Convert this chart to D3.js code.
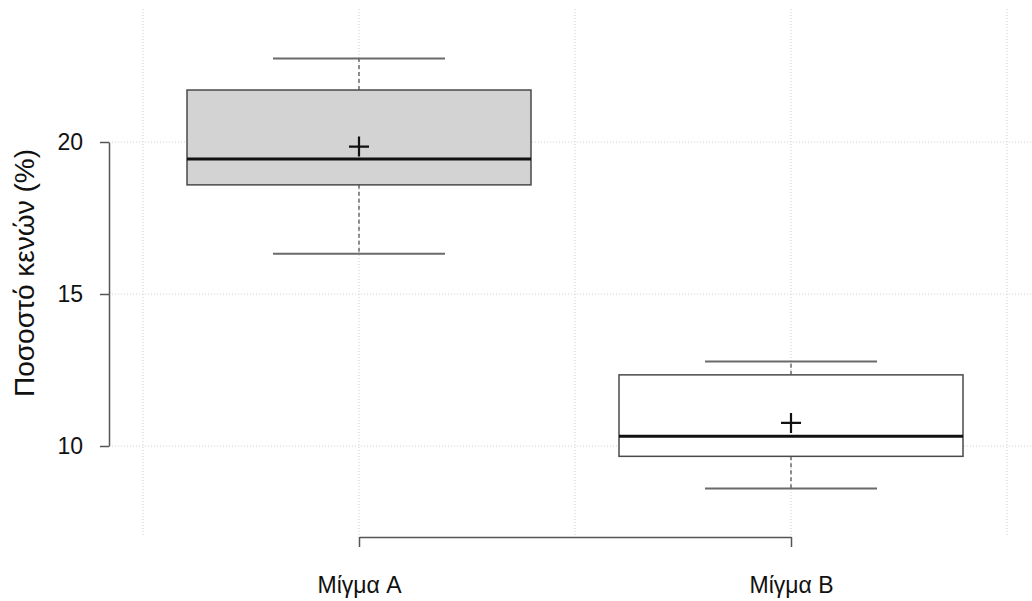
<!DOCTYPE html>
<html>
<head>
<meta charset="utf-8">
<script src="https://cdn.jsdelivr.net/npm/d3@7"></script>
<style>
  html, body { margin: 0; padding: 0; background: #fff; }
  svg { display: block; font-family: "Liberation Sans", Arial, Helvetica, sans-serif; }
</style>
</head>
<body>
<svg id="chart" width="1032" height="601"></svg>
<script>
// Two mixtures, five-number summaries plus the mean, in percent voids
const categories = ["Μίγμα A", "Μίγμα B"];
const whiskerLow  = [16.32, 8.60];
const quartile1   = [18.59, 9.66];
const medians     = [19.44, 10.32];
const quartile3   = [21.71, 12.34];
const whiskerHigh = [22.75, 12.78];
const means       = [19.85, 10.76];
const boxFills    = ["#d3d3d3", "#ffffff"];
const yTicks      = [10, 15, 20];
const gridX       = [0.5, 1, 1.5, 2, 2.5];
const yLabel      = "Ποσοστό κενών (%)";

const svg = d3.select("#chart");

const x = d3.scaleLinear().domain([1, 2]).range([359, 791]);
const y = d3.scaleLinear().domain([10, 20]).range([446, 142]);

const boxHalf = 172;
const capHalf = 86;
const plotLeft = 109, plotRight = 1032, plotTop = 9, plotBottom = 537;

// Dotted background grid
const grid = svg.append("g").attr("stroke", "#d0d0d0").attr("stroke-width", 1)
  .attr("stroke-dasharray", "1,2");
grid.selectAll("line.v").data(gridX).join("line").attr("class", "v")
  .attr("x1", d => x(d)).attr("x2", d => x(d))
  .attr("y1", plotTop).attr("y2", plotBottom);
grid.selectAll("line.h").data(yTicks).join("line").attr("class", "h")
  .attr("x1", plotLeft).attr("x2", plotRight)
  .attr("y1", d => y(d)).attr("y2", d => y(d));

const rows = categories.map((c, i) => ({
  i, c, lo: whiskerLow[i], q1: quartile1[i], med: medians[i],
  q3: quartile3[i], hi: whiskerHigh[i], mean: means[i], fill: boxFills[i]
}));

const g = svg.append("g").selectAll("g").data(rows).join("g");

// Dashed whisker stems
g.append("line")
  .attr("x1", d => x(d.i + 1)).attr("x2", d => x(d.i + 1))
  .attr("y1", d => y(d.q3)).attr("y2", d => y(d.hi))
  .attr("stroke", "#555").attr("stroke-width", 1.3).attr("stroke-dasharray", "4,3");
g.append("line")
  .attr("x1", d => x(d.i + 1)).attr("x2", d => x(d.i + 1))
  .attr("y1", d => y(d.q1)).attr("y2", d => y(d.lo))
  .attr("stroke", "#555").attr("stroke-width", 1.3).attr("stroke-dasharray", "4,3");

// Whisker caps
["hi", "lo"].forEach(k => {
  g.append("line")
    .attr("x1", d => x(d.i + 1) - capHalf).attr("x2", d => x(d.i + 1) + capHalf)
    .attr("y1", d => y(d[k])).attr("y2", d => y(d[k]))
    .attr("stroke", "#6a6a6a").attr("stroke-width", 2);
});

// Boxes
g.append("rect")
  .attr("x", d => x(d.i + 1) - boxHalf)
  .attr("width", boxHalf * 2)
  .attr("y", d => y(d.q3))
  .attr("height", d => y(d.q1) - y(d.q3))
  .attr("fill", d => d.fill)
  .attr("stroke", "#4a4a4a").attr("stroke-width", 1.5);

// Medians
g.append("line")
  .attr("x1", d => x(d.i + 1) - boxHalf).attr("x2", d => x(d.i + 1) + boxHalf)
  .attr("y1", d => y(d.med)).attr("y2", d => y(d.med))
  .attr("stroke", "#111").attr("stroke-width", 3.2);

// Mean markers
g.append("path")
  .attr("d", d => {
    const cx = x(d.i + 1), cy = y(d.mean), r = 10;
    return `M${cx - r},${cy}H${cx + r}M${cx},${cy - r}V${cy + r}`;
  })
  .attr("stroke", "#111").attr("stroke-width", 2.2).attr("fill", "none");

// Y axis
const yAxis = svg.append("g").attr("transform", `translate(${plotLeft},0)`)
  .call(d3.axisLeft(y).tickValues(yTicks).tickSize(9).tickSizeOuter(0).tickPadding(17)
    .tickFormat(d3.format("d")));
yAxis.selectAll("path, line").attr("stroke", "#555").attr("stroke-width", 1.5);
yAxis.selectAll("text").attr("font-size", 23).attr("fill", "#111")
  .attr("font-family", "Liberation Sans, Arial, sans-serif");

// X axis
const xAxis = svg.append("g").attr("transform", `translate(0,${plotBottom})`)
  .call(d3.axisBottom(x).tickValues([1, 2]).tickSize(10).tickSizeOuter(0).tickPadding(0)
    .tickFormat((d, i) => categories[i]));
xAxis.selectAll("path, line").attr("stroke", "#555").attr("stroke-width", 1.5);
xAxis.selectAll("text").attr("font-size", 23).attr("fill", "#111")
  .attr("font-family", "Liberation Sans, Arial, sans-serif")
  .attr("dy", null).attr("y", 56);

// Y axis title, centred on the plotting region
svg.append("text")
  .attr("transform", `translate(34,${(plotTop + plotBottom) / 2}) rotate(-90)`)
  .attr("text-anchor", "middle")
  .attr("font-size", 28).attr("fill", "#111")
  .text(yLabel);
</script>
</body>
</html>
